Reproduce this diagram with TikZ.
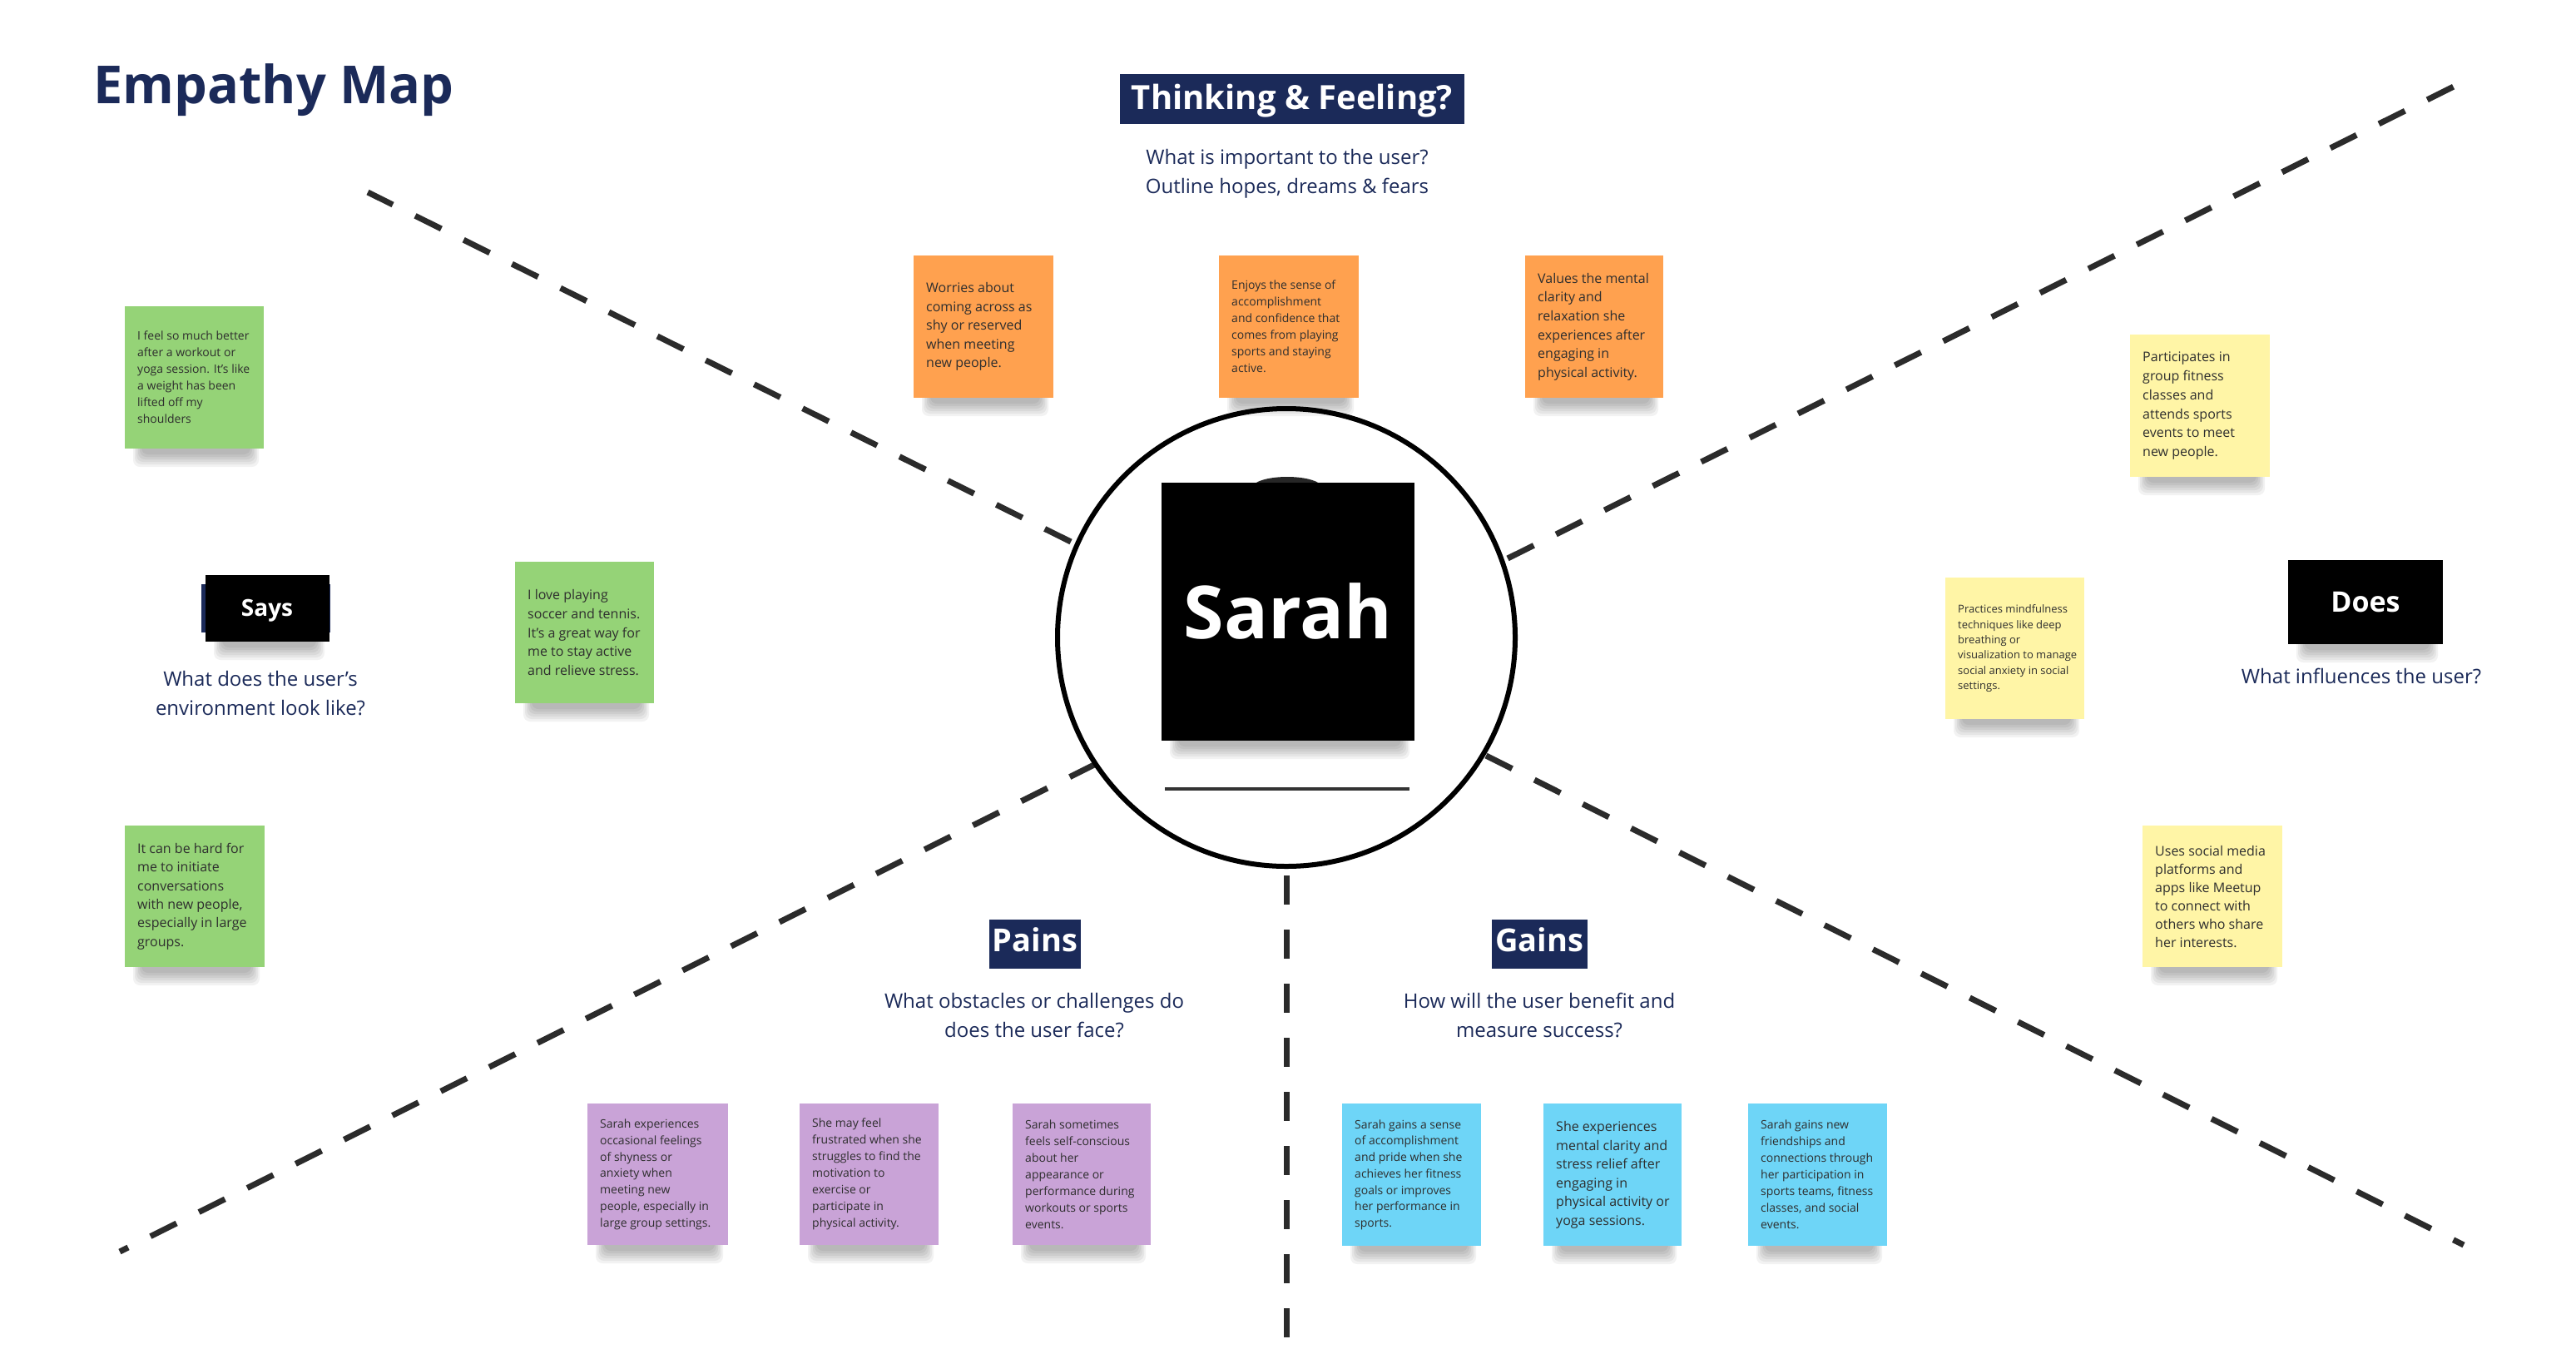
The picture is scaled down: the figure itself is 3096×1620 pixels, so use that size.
\documentclass[tikz,border=0pt]{standalone}
\usepackage{fontspec}
\setmainfont{Open Sans}
\usetikzlibrary{calc}
\definecolor{navy}{HTML}{1B2A59}
\definecolor{orangenote}{HTML}{FFA14F}
\definecolor{greennote}{HTML}{95D377}
\definecolor{yellownote}{HTML}{FFF5A6}
\definecolor{purplenote}{HTML}{C9A3D7}
\definecolor{bluenote}{HTML}{6ED5F7}
\definecolor{notetextcol}{HTML}{2E2E2E}
\definecolor{dashcol}{HTML}{2B2B2B}
\newcommand\sq{{\char"27}}
\tikzset{
  note/.style={draw=none, inner sep=0pt, anchor=north west},
  notetext/.style={anchor=west, align=left, inner sep=0pt, text=notetextcol},
  headbox/.style={fill=navy, text=white, inner sep=0pt, font=\bfseries},
  blackbox/.style={fill=black, text=white, inner sep=0pt, font=\bfseries},
  subtitle/.style={text=navy, align=center, inner sep=0pt, font=\fontsize{24}{35}\selectfont},
  divider/.style={draw=dashcol, line width=7pt, dash pattern=on 35pt off 30pt},
}
\newcommand\noteshadow[4]{%
  \foreach \k in {0,...,5}{\fill[black,opacity=0.05,rounded corners=8pt]
     (#1+10+2*\k, #2+#4-12) rectangle (#1+#3-6-2*\k, #2+#4+22-3*\k);}}
\newcommand\sticky[9]{%
  \noteshadow{#3}{#4}{#5}{#6}
  \node[note, fill=#2, minimum width=#5pt, minimum height=#6pt] (#1) at (#3,#4) {};
  \node[notetext, font=\fontsize{#7}{#8}\selectfont] (#1-t) at ($(#1.west)+(15,0)$) {#9};
}
\begin{document}
\begin{tikzpicture}[x=1pt,y=-1pt]
\fill[white] (0,0) rectangle (3096,1620);
\useasboundingbox (0,0) rectangle (3096,1620);

% title
\node[anchor=base west, inner sep=0pt, text=navy, font=\bfseries\fontsize{63}{70}\selectfont] (title) at (112,124) {Empathy Map};

% dashed dividers
\coordinate (ul-in) at (1287,651); \coordinate (ul-out) at (442,231);
\coordinate (ur-in) at (1812,671); \coordinate (ur-out) at (2951,103);
\coordinate (ll-in) at (1317,918); \coordinate (ll-out) at (144,1504);
\coordinate (lr-in) at (1786,908); \coordinate (lr-out) at (2961,1496);
\coordinate (dn-in) at (1546,1052); \coordinate (dn-out) at (1546,1609);
\draw[divider] (ul-in) -- (ul-out);
\draw[divider] (ur-in) -- (ur-out);
\draw[divider] (ll-in) -- (ll-out);
\draw[divider] (lr-in) -- (lr-out);
\draw[divider] (dn-in) -- (dn-out);

% centre
\node[circle, draw=black, line width=6pt, minimum size=550pt, inner sep=0pt] (circ) at (1546,766) {};
\noteshadow{1396}{580}{304}{310}
\fill[black!85] (1505,586) arc[start angle=180, end angle=0, x radius=42, y radius=-13] -- cycle;
\node[blackbox, minimum width=304pt, minimum height=310pt, anchor=north west] (sarahbox) at (1396,580) {};
\node[anchor=base, inner sep=0pt, text=white, font=\bfseries\fontsize{88}{96}\selectfont] (sarah) at (1548,767) {Sarah};
\coordinate (ulA) at (1400,948); \coordinate (ulB) at (1694,948);
\draw[line width=4pt, draw=black!80] (ulA) -- (ulB);

% Thinking & Feeling
\node[headbox, minimum width=414pt, minimum height=60pt, anchor=north west] (thinkbox) at (1346,89) {};
\node[anchor=base, inner sep=0pt, text=white, font=\bfseries\fontsize{40}{46}\selectfont] (think) at (1553,131) {Thinking \& Feeling?};
\node[subtitle] (thinksub) at (1547,209) {What is important to the user?\\Outline hopes, dreams \& fears};

% Says
\fill[navy] (242,702) rectangle (397,760);
\noteshadow{247}{691}{149}{80}
\node[blackbox, minimum width=149pt, minimum height=80pt, anchor=north west] (saysbox) at (247,691) {};
\node[anchor=base, inner sep=0pt, text=white, font=\bfseries\fontsize{28}{32}\selectfont] (says) at (321,740) {Says};
\node[subtitle] (sayssub) at (313,833) {What does the user\sq s\\environment look like?};

% Does
\noteshadow{2750}{673}{186}{101}
\node[blackbox, minimum width=186pt, minimum height=101pt, anchor=north west] (doesbox) at (2750,673) {};
\node[anchor=base, inner sep=0pt, text=white, font=\bfseries\fontsize{34}{40}\selectfont] (does) at (2843,735) {Does};
\node[subtitle, anchor=base] (doessub) at (2838,821) {What influences the user?};

% Pains / Gains
\node[headbox, minimum width=110pt, minimum height=59pt, anchor=north west] (painsbox) at (1189,1105) {};
\node[anchor=base, inner sep=0pt, text=white, font=\bfseries\fontsize{38}{44}\selectfont] (pains) at (1244,1143) {Pains};
\node[subtitle] (painssub) at (1243,1220) {What obstacles or challenges do\\does the user face?};
\node[headbox, minimum width=115pt, minimum height=59pt, anchor=north west] (gainsbox) at (1793,1105) {};
\node[anchor=base, inner sep=0pt, text=white, font=\bfseries\fontsize{38}{44}\selectfont] (gains) at (1850,1143) {Gains};
\node[subtitle] (gainssub) at (1850,1220) {How will the user benefit and\\measure success?};

% orange
\sticky{o1}{orangenote}{1098}{307}{168}{171}{16}{22.5}{Worries about\\coming across as\\shy or reserved\\when meeting\\new people.}
\sticky{o2}{orangenote}{1465}{307}{168}{171}{14}{20}{Enjoys the sense of\\accomplishment\\and confidence that\\comes from playing\\sports and staying\\active.}
\sticky{o3}{orangenote}{1833}{307}{166}{171}{16}{22.7}{Values the mental\\clarity and\\relaxation she\\experiences after\\engaging in\\physical activity.}
% green
\sticky{g1}{greennote}{150}{368}{167}{171}{14}{20}{I feel so much better\\after a workout or\\yoga session. It’s like\\a weight has been\\lifted off my\\shoulders}
\sticky{g2}{greennote}{619}{675}{167}{170}{16}{22.7}{I love playing\\soccer and tennis.\\It\sq s a great way for\\me to stay active\\and relieve stress.}
\sticky{g3}{greennote}{150}{992}{168}{170}{16}{22.3}{It can be hard for\\me to initiate\\conversations\\with new people,\\especially in large\\groups.}
% yellow
\sticky{y1}{yellownote}{2560}{402}{168}{171}{16}{22.7}{Participates in\\group fitness\\classes and\\attends sports\\events to meet\\new people.}
\sticky{y2}{yellownote}{2338}{694}{167}{170}{13}{18.3}{Practices mindfulness\\techniques like deep\\breathing or\\visualization to manage\\social anxiety in social\\settings.}
\sticky{y3}{yellownote}{2575}{992}{168}{170}{16}{22}{Uses social media\\platforms and\\apps like Meetup\\to connect with\\others who share\\her interests.}
% purple
\sticky{p1}{purplenote}{706}{1326}{169}{170}{14}{19.8}{Sarah experiences\\occasional feelings\\of shyness or\\anxiety when\\meeting new\\people, especially in\\large group settings.}
\sticky{p2}{purplenote}{961}{1326}{167}{170}{14}{20}{She may feel\\frustrated when she\\struggles to find the\\motivation to\\exercise or\\participate in\\physical activity.}
\sticky{p3}{purplenote}{1217}{1326}{166}{170}{14}{20}{Sarah sometimes\\feels self-conscious\\about her\\appearance or\\performance during\\workouts or sports\\events.}
% blue
\sticky{b1}{bluenote}{1613}{1326}{167}{171}{14}{19.7}{Sarah gains a sense\\of accomplishment\\and pride when she\\achieves her fitness\\goals or improves\\her performance in\\sports.}
\sticky{b2}{bluenote}{1855}{1326}{166}{171}{16}{22.5}{She experiences\\mental clarity and\\stress relief after\\engaging in\\physical activity or\\yoga sessions.}
\sticky{b3}{bluenote}{2101}{1326}{167}{171}{14}{20}{Sarah gains new\\friendships and\\connections through\\her participation in\\sports teams, fitness\\classes, and social\\events.}
\end{tikzpicture}
\end{document}
